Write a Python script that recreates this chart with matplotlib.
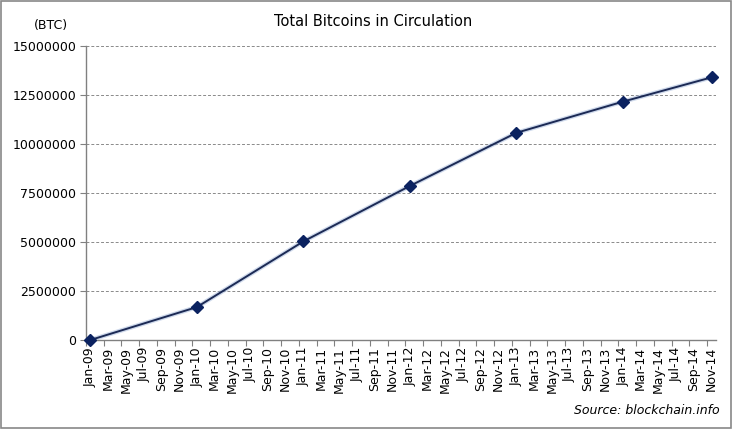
import matplotlib
matplotlib.use('Agg')
from matplotlib import pyplot as plt
from matplotlib.patches import Rectangle
import pandas as pd

# monthly categories on the x axis
months = pd.date_range('2009-01-01', '2014-11-01', freq='MS')
month_labels = [m.strftime('%b-%y') for m in months]

# yearly snapshots of total BTC in circulation
point_months = ['Jan-09', 'Jan-10', 'Jan-11', 'Jan-12', 'Jan-13', 'Jan-14', 'Nov-14']
btc_total = [0, 1680000, 5030000, 7860000, 10570000, 12160000, 13400000]

y_ticks = [0, 2500000, 5000000, 7500000, 10000000, 12500000, 15000000]

plt.rcParams['font.family'] = ['DejaVu Sans']

fig = plt.figure(figsize=(7.32, 4.29), dpi=100)
ax = fig.add_axes([86 / 732, 1 - 340 / 429, 630 / 732, 294 / 429])

x_pos = [month_labels.index(m) for m in point_months]
ax.plot(x_pos, btc_total, color='#9fb4d8', lw=3.2, alpha=0.5, zorder=2)
ax.plot(x_pos, btc_total, color='#1c2a55', lw=1.4, zorder=3,
        marker='D', markersize=6.5, markerfacecolor='#0b2260',
        markeredgecolor='#0b2260', clip_on=False)

ax.set_xlim(-0.5, len(months) - 0.5)
ax.set_ylim(0, 15000000)

# tick marks on category boundaries every 2 months, labels on every other month
ax.set_xticks([i - 0.5 for i in range(0, len(months), 2)])
ax.set_xticklabels([])
ax.set_xticks(list(range(0, len(months), 2)), minor=True)
ax.set_xticklabels(month_labels[::2], minor=True, rotation=90, fontsize=9)
ax.tick_params(axis='x', which='major', length=4, color='#808080', direction='out')
ax.tick_params(axis='x', which='minor', length=0, pad=5)

ax.set_yticks(y_ticks)
ax.set_yticklabels([str(v) for v in y_ticks], fontsize=9)
ax.tick_params(axis='y', length=4, color='#808080', pad=3)
ax.yaxis.grid(True, linestyle=(0, (3, 2)), color='#8a8a8a', lw=0.7)
ax.set_axisbelow(True)

for side in ['top', 'right']:
    ax.spines[side].set_visible(False)
for side in ['left', 'bottom']:
    ax.spines[side].set_color('#808080')
    ax.spines[side].set_linewidth(1.0)

fig.text(373 / 732, 1 - 22 / 429, 'Total Bitcoins in Circulation', ha='center',
         va='center', fontsize=10.5)
fig.text(51 / 732, 1 - 25 / 429, '(BTC)', ha='center', va='center', fontsize=9)
fig.text(720 / 732, 1 - 411 / 429, 'Source: blockchain.info', ha='right',
         va='center', fontsize=9, style='italic')

fig.patches.append(Rectangle((0.001, 0.002), 0.997, 0.996, transform=fig.transFigure,
                             fill=False, edgecolor='#888888', lw=1.2))

fig.savefig('out.png', dpi=100)
